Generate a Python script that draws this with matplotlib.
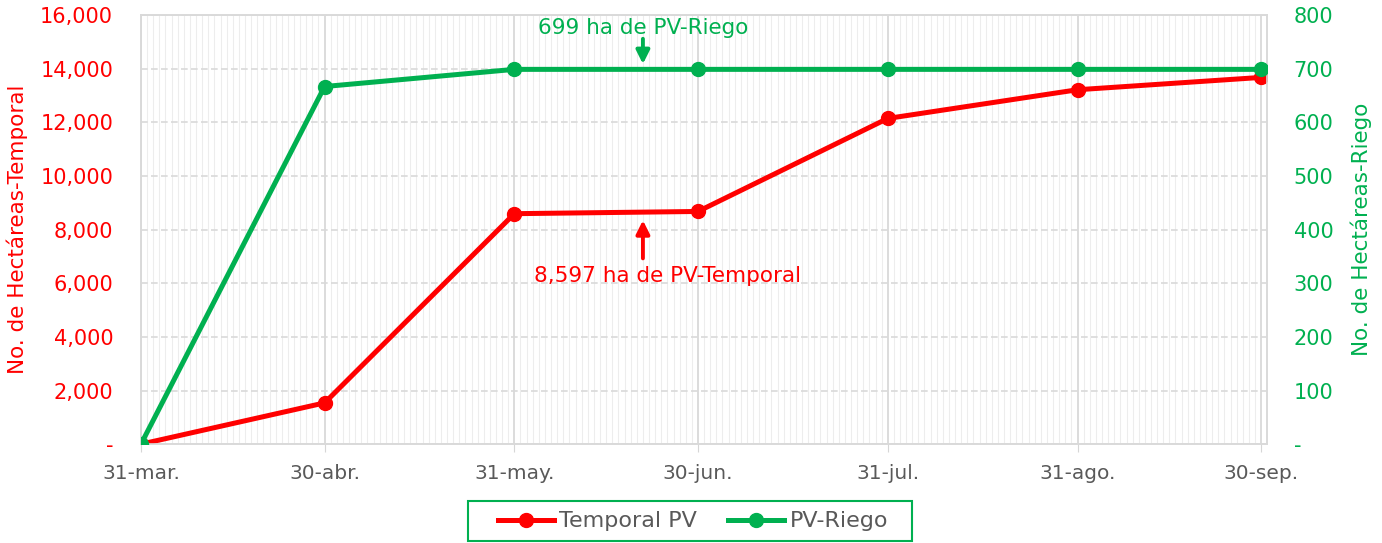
import matplotlib
matplotlib.use("Agg")
import matplotlib.pyplot as plt
import matplotlib.dates as mdates
import matplotlib.ticker as mticker
from matplotlib.patches import Rectangle
import pandas as pd

# data
fechas = ["2021-03-31", "2021-04-30", "2021-05-31", "2021-06-30",
          "2021-07-31", "2021-08-31", "2021-09-30"]
temporal = [0, 1540, 8597, 8680, 12150, 13220, 13680]
riego = [0, 667, 699, 699, 699, 699, 699]
etiquetas_x = ["31-mar.", "30-abr.", "31-may.", "30-jun.",
               "31-jul.", "31-ago.", "30-sep."]

ROJO = "#FF0000"
VERDE = "#00B050"
GRIS = "#595959"

plt.rcParams["font.family"] = ["DejaVu Sans"]

x = pd.to_datetime(fechas)

fig = plt.figure(figsize=(13.82, 5.43), dpi=100)
ax = fig.add_axes([0.102, 0.182, 0.815, 0.790])
ax2 = ax.twinx()

l1, = ax.plot(x, temporal, color=ROJO, lw=3.6, marker="o", ms=10,
              label="Temporal PV", zorder=3)
l2, = ax2.plot(x, riego, color=VERDE, lw=3.6, marker="o", ms=10,
               label="PV-Riego", zorder=3)

ax.set_xlim(x[0], x[-1] + pd.Timedelta(days=1))
ax.set_ylim(0, 16000)
ax2.set_ylim(0, 800)

# grid: daily minor vertical lines, dashed horizontals
ax.xaxis.set_major_locator(mticker.FixedLocator(mdates.date2num(x)))
ax.xaxis.set_major_formatter(mticker.FixedFormatter(etiquetas_x))
ax.xaxis.set_minor_locator(mdates.DayLocator())
ax.grid(which="minor", axis="x", color="#EDEDED", lw=0.8)
ax.grid(which="major", axis="x", color="#D6D6D6", lw=1.2)
ax.grid(which="major", axis="y", color="#D9D9D9", lw=1.2, ls=(0, (4, 2)))
ax.set_axisbelow(True)

fmt_miles = mticker.FuncFormatter(lambda v, p: "-" if v == 0 else f"{v:,.0f}")
ax.yaxis.set_major_locator(mticker.MultipleLocator(2000))
ax.yaxis.set_major_formatter(fmt_miles)
ax2.yaxis.set_major_locator(mticker.MultipleLocator(100))
ax2.yaxis.set_major_formatter(fmt_miles)

ax.tick_params(axis="y", length=0, pad=20, labelsize=15, labelcolor=ROJO)
ax2.tick_params(axis="y", length=0, pad=19, labelsize=15, labelcolor=VERDE)
ax.tick_params(axis="x", which="major", length=6, color="#D6D6D6",
               labelsize=14.5, labelcolor=GRIS, pad=8)
ax.tick_params(axis="x", which="minor", length=0)

for a in (ax, ax2):
    for s in a.spines.values():
        s.set_color("#D9D9D9")
        s.set_linewidth(1.2)

ax.set_ylabel("No. de Hectáreas-Temporal", color=ROJO, fontsize=15.5,
              labelpad=9)
ax2.set_ylabel("No. de Hectáreas-Riego", color=VERDE, fontsize=15.5,
               labelpad=12)

# annotations
x_flecha = x[0] + pd.Timedelta(days=82)
ax2.annotate("", xy=(x_flecha, 709), xytext=(x_flecha, 756),
             arrowprops=dict(arrowstyle="-|>", color=VERDE, lw=2.8,
                             mutation_scale=20, shrinkA=0, shrinkB=0))
ax2.text(x_flecha, 776, "699 ha de PV-Riego", color=VERDE, fontsize=15.5,
         ha="center", va="center")
ax.annotate("", xy=(x_flecha, 8350), xytext=(x_flecha, 6930),
            arrowprops=dict(arrowstyle="-|>", color=ROJO, lw=2.8,
                            mutation_scale=20, shrinkA=0, shrinkB=0))
ax.text(x[0] + pd.Timedelta(days=86), 6260, "8,597 ha de PV-Temporal",
        color=ROJO, fontsize=15.5, ha="center", va="center")

# legend without frame, box drawn separately so it can be wider
leg = fig.legend(handles=[l1, l2], loc="center", ncol=2,
                 bbox_to_anchor=(0.5015, 0.040), fontsize=16,
                 frameon=False, handlelength=2.5, handletextpad=0.25,
                 columnspacing=1.4, borderaxespad=0)
for t in leg.get_texts():
    t.set_color(GRIS)
fig.patches.append(Rectangle((468 / 1382, 0.004), 444 / 1382, 0.073,
                             transform=fig.transFigure, fill=False,
                             edgecolor=VERDE, lw=1.5))

fig.savefig("out.png", dpi=100)
